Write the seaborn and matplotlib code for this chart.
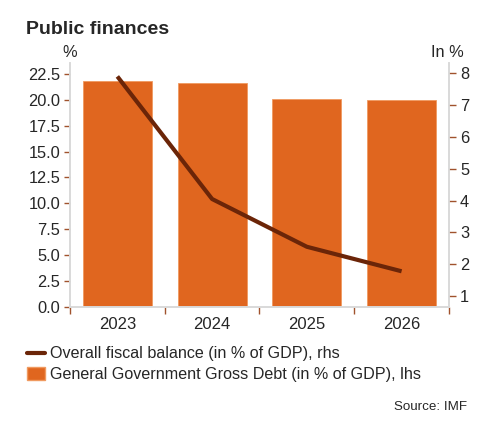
import matplotlib
matplotlib.use("Agg")
import matplotlib.pyplot as plt
import seaborn as sns
import pandas as pd
from matplotlib.lines import Line2D
from matplotlib.patches import Patch

years = ["2023", "2024", "2025", "2026"]
debt = [21.8, 21.6, 20.1, 20.0]
balance = [7.9, 4.05, 2.55, 1.78]

bar_color = "#E0661F"
line_color = "#6B2508"
tick_color = "#A0522D"
spine_color = "#D9D9D9"

sns.set_theme(style="white")
plt.rcParams["font.family"] = ["Liberation Sans", "DejaVu Sans"]

fig = plt.figure(figsize=(4.84, 4.32), dpi=100)
ax = fig.add_axes([0.1446, 0.2895, 0.783, 0.5645])

df = pd.DataFrame({"year": years, "debt": debt, "balance": balance})
sns.barplot(data=df, x="year", y="debt", color=bar_color, width=0.73,
            edgecolor="#F09A60", linewidth=0.6, saturation=1, ax=ax)
ax.set_ylim(0, 23.55)
ax.set_xlim(-0.5, 3.5)
yt = [0, 2.5, 5, 7.5, 10, 12.5, 15, 17.5, 20, 22.5]
ax.set_yticks(yt)
ax.set_yticklabels([f"{v:.1f}" for v in yt])
ax.set_xlabel("")
ax.set_ylabel("")
ax.tick_params(axis="y", which="major", length=4, width=1, color=tick_color,
               labelsize=11.8, pad=3, left=True, direction="out")
ax.set_xticks([0, 1, 2, 3])
ax.set_xticklabels(years)
ax.tick_params(axis="x", which="major", length=0, labelsize=12, pad=7)
ax.set_xticks([-0.5, 0.5, 1.5, 2.5, 3.5], minor=True)
ax.tick_params(axis="x", which="minor", length=5, width=1, color=tick_color,
               bottom=True, direction="out")

ax2 = ax.twinx()
sns.lineplot(x=[0, 1, 2, 3], y=balance, color=line_color, linewidth=3,
             ax=ax2, solid_capstyle="butt")
ax2.set_ylim(0.66, 8.32)
ax2.set_yticks([1, 2, 3, 4, 5, 6, 7, 8])
ax2.tick_params(axis="y", which="major", length=5, width=1, color=tick_color,
                labelsize=11.8, pad=3, right=True, direction="out")
ax2.set_ylabel("")

for a in (ax, ax2):
    a.spines["top"].set_visible(False)
    for s in ("left", "right", "bottom"):
        a.spines[s].set_color(spine_color)
        a.spines[s].set_linewidth(1.2)

fig.text(0.054, 0.932, "Public finances", fontsize=14, fontweight="bold",
         ha="left", va="center")
fig.text(0.145, 0.878, "%", fontsize=11.8, ha="center", va="center")
fig.text(0.958, 0.878, "In %", fontsize=11.8, ha="right", va="center")

handles = [Line2D([0], [0], color=line_color, linewidth=3),
           Patch(facecolor=bar_color, edgecolor="#F09A60")]
labels = ["Overall fiscal balance (in % of GDP), rhs",
          "General Government Gross Debt (in % of GDP), lhs"]
fig.legend(handles, labels, loc="upper left", bbox_to_anchor=(0.056, 0.198),
           frameon=False, fontsize=11.6, handlelength=1.1, handleheight=0.8,
           handletextpad=0.3, labelspacing=0.35, borderaxespad=0, borderpad=0)

fig.text(0.965, 0.057, "Source: IMF", fontsize=9.6, ha="right", va="center")

fig.savefig("out.png", dpi=100)
